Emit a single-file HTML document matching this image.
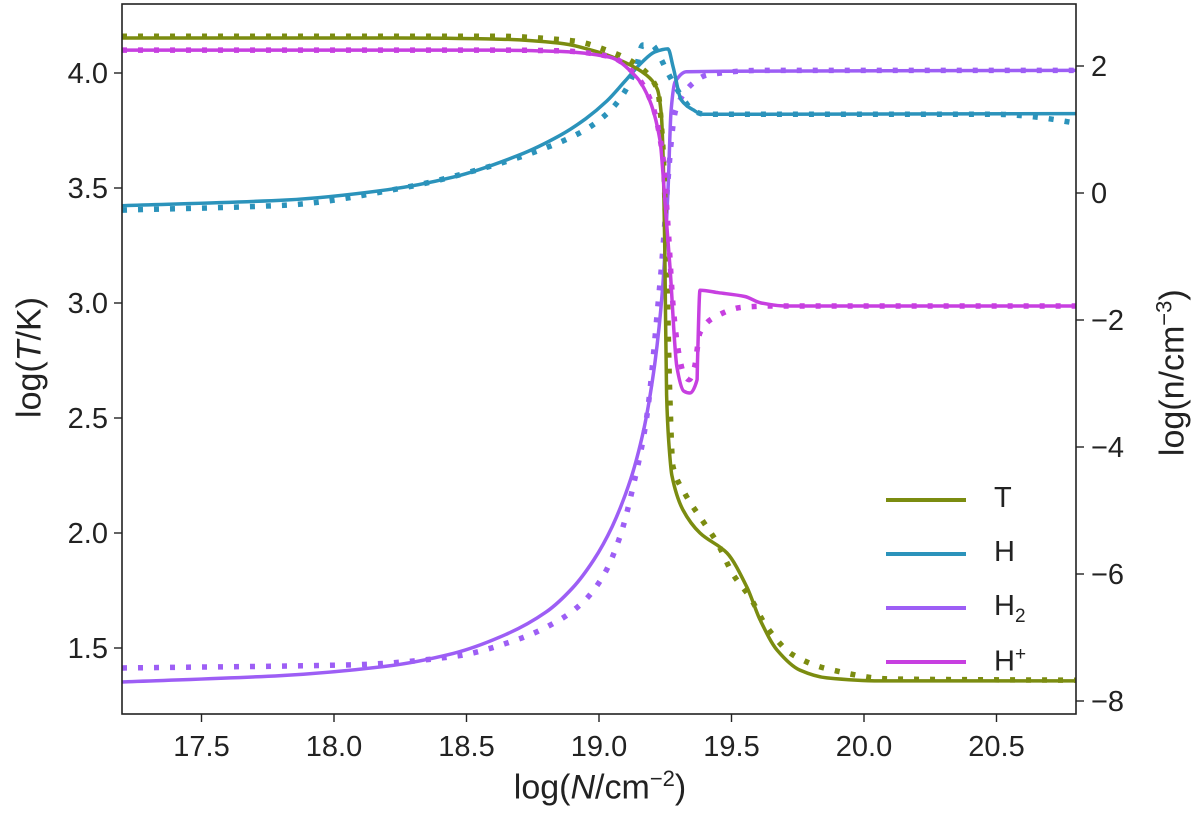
<!DOCTYPE html>
<html><head><meta charset="utf-8"><style>
html,body{margin:0;padding:0;background:#fff;}
svg{display:block;font-family:"Liberation Sans","DejaVu Sans",sans-serif;}
</style></head><body>
<svg id="chart" width="1200" height="819" viewBox="0 0 1200 819" xmlns="http://www.w3.org/2000/svg"></svg>
<script>
const xTicks=[17.5,18.0,18.5,19.0,19.5,20.0,20.5];
const tTicks=[1.5,2.0,2.5,3.0,3.5,4.0];
const nTicks=[2,0,-2,-4,-6,-8];
const tSolid=[[17.2,4.152],[18.25,4.152],[18.63,4.147],[18.85,4.13],[19.0,4.09],[19.1,4.045],[19.18,3.99],[19.22,3.93],[19.235,3.82],[19.243,3.59],[19.249,3.16],[19.255,2.6],[19.263,2.4],[19.275,2.25],[19.317,2.1],[19.381,2.0],[19.483,1.913],[19.558,1.765],[19.608,1.622],[19.672,1.491],[19.758,1.404],[19.86,1.37],[20.06,1.357],[20.8,1.357]];
const tDot=[[17.2,4.16],[18.6,4.16],[18.9,4.14],[19.05,4.09],[19.15,4.03],[19.22,3.93],[19.24,3.7],[19.255,3.2],[19.267,2.6],[19.279,2.29],[19.325,2.17],[19.393,2.05],[19.445,1.96],[19.506,1.82],[19.57,1.72],[19.634,1.59],[19.732,1.47],[19.86,1.41],[20.1,1.365],[20.8,1.36]];
const hSolid=[[17.2,-0.2],[17.82,-0.11],[18.2,0.05],[18.45,0.25],[18.7,0.6],[18.85,0.9],[18.95,1.17],[19.03,1.45],[19.1,1.77],[19.16,2.05],[19.21,2.22],[19.26,2.27],[19.28,1.98],[19.31,1.47],[19.355,1.31],[19.39,1.24],[19.6,1.24],[20.8,1.25]];
const hDot=[[17.2,-0.27],[17.82,-0.19],[18.26,0.08],[18.58,0.41],[18.83,0.76],[18.95,1.0],[19.03,1.25],[19.09,1.55],[19.14,1.98],[19.165,2.33],[19.2,2.33],[19.23,2.14],[19.26,1.89],[19.32,1.47],[19.355,1.3],[19.4,1.24],[20.5,1.24],[20.64,1.2],[20.8,1.1]];
const h2Solid=[[17.2,-7.7],[17.8,-7.6],[18.2,-7.45],[18.45,-7.25],[18.65,-6.95],[18.8,-6.6],[18.9,-6.22],[18.98,-5.78],[19.05,-5.25],[19.12,-4.5],[19.17,-3.7],[19.21,-2.7],[19.24,-1.5],[19.26,0.0],[19.272,1.3],[19.287,1.75],[19.33,1.91],[19.61,1.92],[20.8,1.93]];
const h2Dot=[[17.2,-7.48],[18.07,-7.43],[18.45,-7.3],[18.7,-7.02],[18.86,-6.7],[18.95,-6.4],[19.02,-6.0],[19.08,-5.4],[19.13,-4.6],[19.18,-3.53],[19.23,-1.42],[19.29,1.31],[19.355,1.73],[19.41,1.86],[19.6,1.93],[20.8,1.93]];
const hpSolid=[[17.2,2.25],[18.6,2.25],[18.85,2.23],[19.04,2.14],[19.14,1.83],[19.19,1.47],[19.23,0.83],[19.25,-0.2],[19.268,-1.17],[19.294,-2.74],[19.32,-3.12],[19.343,-3.15],[19.37,-2.94],[19.372,-2.6],[19.381,-1.53],[19.45,-1.57],[19.55,-1.63],[19.61,-1.73],[19.7,-1.78],[20.8,-1.78]];
const hpDot=[[17.2,2.25],[18.6,2.25],[18.85,2.24],[19.04,2.15],[19.14,1.85],[19.2,1.4],[19.24,0.6],[19.26,-0.5],[19.28,-1.8],[19.3,-2.5],[19.32,-2.85],[19.34,-2.94],[19.36,-2.75],[19.381,-2.2],[19.43,-1.97],[19.54,-1.8],[19.65,-1.78],[20.8,-1.78]];

const L=122,R=1076,T=4,B=714;
const xs=v=>L+(v-17.2)*265;
const yT=v=>73+(4.0-v)*230;
const yN=v=>193-v*63.5;
const svg=document.getElementById('chart');
const NS='http://www.w3.org/2000/svg';
function el(tag,attrs,parent){const e=document.createElementNS(NS,tag);for(const k in attrs)e.setAttribute(k,attrs[k]);(parent||svg).appendChild(e);return e;}
const C={T:'#7b8c10',H:'#2b93bb',H2:'#9d5ef5',HP:'#c73fe0'};
const clip=el('clipPath',{id:'pc'});el('rect',{x:L,y:T,width:R-L,height:B-T},clip);
function smoothPath(P){
  const n=P.length,d=[],m=[];
  for(let i=0;i<n-1;i++){const h=P[i+1][0]-P[i][0];d.push(h>1e-6?(P[i+1][1]-P[i][1])/h:0);}
  m[0]=d[0];m[n-1]=d[n-2];
  for(let i=1;i<n-1;i++){m[i]=(d[i-1]*d[i]<=0)?0:2/(1/d[i-1]+1/d[i]);}
  let s='M'+P[0][0].toFixed(1)+','+P[0][1].toFixed(1);
  for(let i=0;i<n-1;i++){const h=(P[i+1][0]-P[i][0])/3;
    s+=' C'+(P[i][0]+h).toFixed(1)+','+(P[i][1]+m[i]*h).toFixed(1)+' '+(P[i+1][0]-h).toFixed(1)+','+(P[i+1][1]-m[i+1]*h).toFixed(1)+' '+P[i+1][0].toFixed(1)+','+P[i+1][1].toFixed(1);}
  return s;
}
function line(data,yf,color,dotted,name){
  const P=data.map(p=>[xs(p[0]),yf(p[1])]);
  const p=el('path',{d:smoothPath(P),fill:'none',stroke:color,'stroke-width':dotted?5.5:3.5,'stroke-dasharray':dotted?'5 11':'none','stroke-linejoin':'round','clip-path':'url(#pc)'});
  
  
}
line(h2Dot,yN,C.H2,true,'h2-model-dotted');
line(h2Solid,yN,C.H2,false,'h2-line');
line(hDot,yN,C.H,true,'h-model-dotted');
line(hSolid,yN,C.H,false,'h-line');
line(tDot,yT,C.T,true,'t-model-dotted');
line(tSolid,yT,C.T,false,'t-line');
line(hpDot,yN,C.HP,true,'hplus-model-dotted');
line(hpSolid,yN,C.HP,false,'hplus-line');
const frame=el('rect',{x:L,y:T,width:R-L,height:B-T,fill:'none',stroke:'#222','stroke-width':1.6});


xTicks.forEach(v=>{const x=xs(v);el('line',{x1:x,x2:x,y1:B,y2:B+8,stroke:'#222','stroke-width':1.4});
 const t=el('text',{x:x,y:B+42,'text-anchor':'middle','font-size':29,fill:'#222'});t.textContent=v.toFixed(1);
 });
tTicks.forEach(v=>{const y=yT(v);el('line',{x1:L-8,x2:L,y1:y,y2:y,stroke:'#222','stroke-width':1.4});
 const t=el('text',{x:L-14,y:y+10,'text-anchor':'end','font-size':29,fill:'#222'});t.textContent=v.toFixed(1);
 });
nTicks.forEach(v=>{const y=yN(v);el('line',{x1:R,x2:R+8,y1:y,y2:y,stroke:'#222','stroke-width':1.4});
 const t=el('text',{x:R+15,y:y+10,'text-anchor':'start','font-size':29,fill:'#222'});t.textContent=(v<0?'\u2212':'')+Math.abs(v);
 });
</script>
<div style="position:absolute;left:0;top:0;width:1200px;height:819px;pointer-events:none;font-family:'Liberation Sans','DejaVu Sans',sans-serif;color:#222;">
<div style="position:absolute;left:400px;width:400px;top:766px;text-align:center;font-size:34px;">log(<i>N</i>/cm<sup style="font-size:22px">−2</sup>)</div>
<div style="position:absolute;left:-170px;top:338px;width:400px;text-align:center;font-size:34px;transform:rotate(-90deg);">log(<i>T</i>/K)</div>
<div style="position:absolute;left:972px;top:352px;width:400px;text-align:center;font-size:34px;transform:rotate(-90deg);">log(n/cm<sup style="font-size:22px">−3</sup>)</div>
<div style="position:absolute;left:886px;top:480px;width:180px;height:200px;font-size:29px;">
 <div style="position:absolute;top:0;height:38px;"><span style="position:absolute;left:0;top:18px;width:80px;height:4px;background:#7b8c10"></span><span style="position:absolute;left:108px;top:2px">T</span></div>
 <div style="position:absolute;top:54px;height:38px;"><span style="position:absolute;left:0;top:18px;width:80px;height:4px;background:#2b93bb"></span><span style="position:absolute;left:108px;top:2px">H</span></div>
 <div style="position:absolute;top:108px;height:38px;"><span style="position:absolute;left:0;top:18px;width:80px;height:4px;background:#9d5ef5"></span><span style="position:absolute;left:108px;top:2px;white-space:nowrap">H<sub style="font-size:19px">2</sub></span></div>
 <div style="position:absolute;top:162px;height:38px;"><span style="position:absolute;left:0;top:18px;width:80px;height:4px;background:#c73fe0"></span><span style="position:absolute;left:108px;top:2px;white-space:nowrap">H<sup style="font-size:19px">+</sup></span></div>
</div>
</div>
</body></html>
